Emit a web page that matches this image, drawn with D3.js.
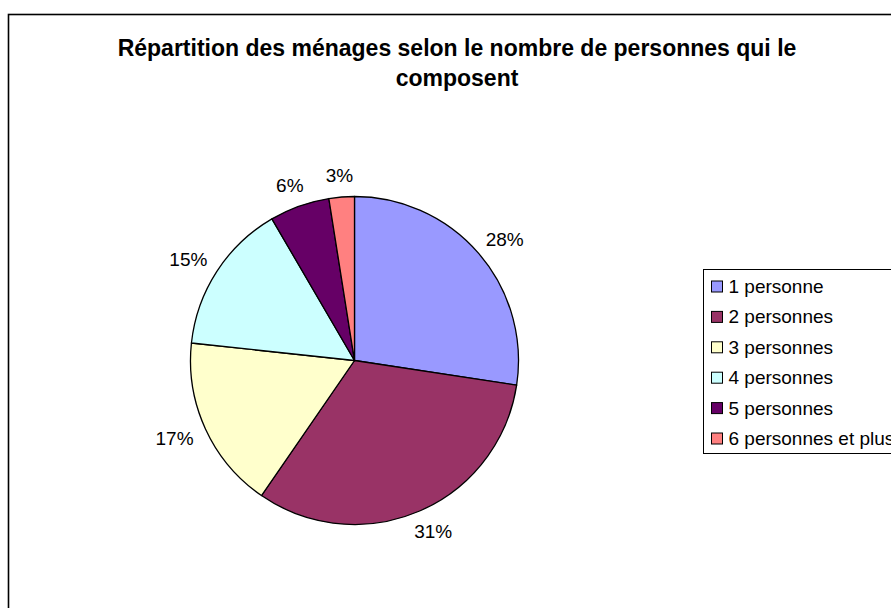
<!DOCTYPE html>
<html>
<head>
<meta charset="utf-8">
<script src="https://cdn.jsdelivr.net/npm/d3@7"></script>
<style>
  body { margin: 0; background: #fff; }
  text { font-family: "Liberation Sans", Arial, sans-serif; fill: #000; }
  .title { font-size: 23px; font-weight: bold; }
  .pct { font-size: 19px; }
  .legend-label { font-size: 19px; }
</style>
</head>
<body>
<div id="wrapper"></div>
<script>
// data
const categories = ["1 personne", "2 personnes", "3 personnes", "4 personnes", "5 personnes", "6 personnes et plus"]
const shares = [27.4, 32.2, 17.1, 14.9, 5.9, 2.5]
const shareLabels = ["28%", "31%", "17%", "15%", "6%", "3%"]
const colors = ["#9999ff", "#993366", "#ffffcc", "#ccffff", "#660066", "#ff8080"]
const titleLines = ["Répartition des ménages selon le nombre de personnes qui le", "composent"]

function drawPie() {
  const width = 891
  const height = 608

  const svg = d3.select("#wrapper")
    .append("svg")
      .attr("width", width)
      .attr("height", height)

  // outer frame, runs off the right and bottom edges
  svg.append("rect")
      .attr("x", 8.5)
      .attr("y", 14.5)
      .attr("width", 940)
      .attr("height", 640)
      .attr("fill", "#fff")
      .attr("stroke", "#000")
      .attr("stroke-width", 1.6)

  // title
  svg.selectAll(".title")
      .data(titleLines)
    .enter().append("text")
      .attr("class", "title")
      .attr("x", 457)
      .attr("y", (d, i) => 56 + i * 30)
      .attr("text-anchor", "middle")
      .text(d => d)

  // pie
  const cx = 354.5
  const cy = 360.5
  const radius = 164

  const pie = d3.pie().sort(null).value(d => d)
  const arcs = pie(shares)
  const arc = d3.arc().innerRadius(0).outerRadius(radius)

  const bounds = svg.append("g")
      .attr("transform", `translate(${cx}, ${cy})`)

  bounds.selectAll(".slice")
      .data(arcs)
    .enter().append("path")
      .attr("class", "slice")
      .attr("d", arc)
      .attr("fill", (d, i) => colors[i])
      .attr("stroke", "#000")
      .attr("stroke-width", 1.3)
      .attr("stroke-linejoin", "round")

  // percentage labels outside the pie
  const labelRadius = radius + 15
  const labels = bounds.selectAll(".pct")
      .data(arcs)
    .enter().append("text")
      .attr("class", "pct")
      .attr("text-anchor", "middle")
      .attr("dominant-baseline", "central")
      .text((d, i) => shareLabels[i])

  labels.each(function(d) {
    const a = (d.startAngle + d.endAngle) / 2
    const w = this.getComputedTextLength()
    const h = 14
    const x = Math.sin(a) * labelRadius + Math.sin(a) * w / 2
    const y = -Math.cos(a) * labelRadius - Math.cos(a) * h / 2
    d3.select(this).attr("x", x).attr("y", y)
  })

  // legend
  const legend = svg.append("g")
      .attr("transform", "translate(703.5, 269.5)")

  legend.append("rect")
      .attr("width", 260)
      .attr("height", 184)
      .attr("fill", "#fff")
      .attr("stroke", "#000")
      .attr("stroke-width", 1)

  const rowY = d3.scaleLinear()
    .domain([0, categories.length - 1])
    .range([17, 169])

  const items = legend.selectAll(".legend-item")
      .data(categories)
    .enter().append("g")
      .attr("class", "legend-item")
      .attr("transform", (d, i) => `translate(0, ${rowY(i)})`)

  items.append("rect")
      .attr("x", 8)
      .attr("y", -5.5)
      .attr("width", 11)
      .attr("height", 11)
      .attr("fill", (d, i) => colors[i])
      .attr("stroke", "#000")
      .attr("stroke-width", 1)

  items.append("text")
      .attr("class", "legend-label")
      .attr("x", 25)
      .attr("y", 0)
      .attr("dominant-baseline", "central")
      .text(d => d)
}
drawPie()
</script>
</body>
</html>
